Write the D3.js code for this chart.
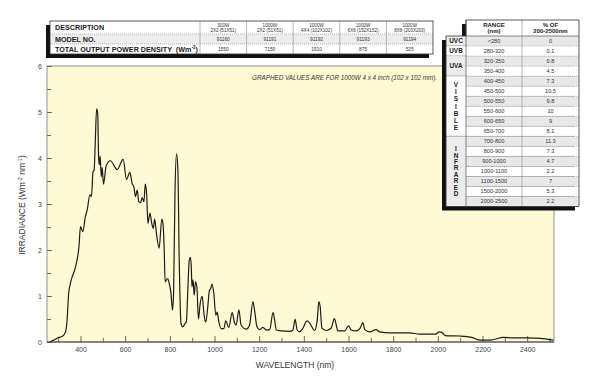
<!DOCTYPE html>
<html>
<head>
<meta charset="utf-8">
<script src="https://cdn.jsdelivr.net/npm/d3@7"></script>
<style>
  body { margin: 0; background: #fff; }
  svg { display: block; font-family: "Liberation Sans", Arial, sans-serif; }
</style>
</head>
<body>
<svg id="chart" width="600" height="383"></svg>
<script>

// spectrum (nm, W m-2 nm-1)
var wavelength = [263, 280, 303, 318, 333, 340, 347, 355, 378, 393, 400, 410, 422, 430, 442, 449, 456, 461, 466, 472,
    477, 481, 484, 488, 493, 497, 503, 515, 534, 564, 591, 606, 621, 631, 639, 646, 654, 661, 669, 676,
    684, 690, 696, 702, 711, 719, 726, 732, 740, 752, 764, 770, 775, 779, 790, 797, 805, 812, 817, 823,
    830, 836, 842, 850, 857, 868, 874, 880, 887, 892, 896, 899, 904, 909, 915, 921, 928, 936, 945, 953,
    961, 971, 977, 983, 989, 997, 1006, 1012, 1019, 1030, 1042, 1050, 1064, 1079, 1090, 1097, 1109, 1119, 1142, 1157,
    1172, 1179, 1190, 1202, 1217, 1232, 1247, 1262, 1269, 1277, 1299, 1336, 1351, 1361, 1370, 1381, 1396, 1414, 1426, 1448,
    1460, 1467, 1473, 1481, 1500, 1522, 1537, 1545, 1552, 1582, 1600, 1612, 1634, 1652, 1664, 1673, 1694, 1724, 1739, 1784,
    1874, 1918, 1990, 2005, 2018, 2033, 2100, 2152, 2190, 2234, 2294, 2339, 2399, 2458, 2518];
var irradiance = [0, 0.04, 0.10, 0.12, 0.22, 0.48, 1.06, 1.28, 1.64, 2.07, 2.51, 2.40, 2.73, 2.87, 3.20, 3.16, 3.70, 3.74, 4.32, 5.07,
    4.97, 4.03, 3.85, 4.04, 3.59, 3.79, 3.43, 3.83, 3.94, 3.75, 3.97, 3.53, 3.69, 3.45, 3.37, 3.16, 3.30, 3.05, 3.03, 3.14,
    3.05, 3.43, 3.23, 2.58, 2.80, 2.58, 2.47, 2.67, 2.36, 2.04, 2.67, 2.54, 1.96, 1.31, 1.38, 1.28, 1.06, 0.69, 1.13, 3.23,
    4.09, 3.74, 1.78, 0.40, 0.33, 0.40, 0.44, 1.06, 1.78, 1.84, 1.64, 1.20, 1.35, 1.02, 1.31, 1.20, 0.50, 0.84, 0.99, 0.60,
    0.43, 0.83, 1.12, 1.16, 1.26, 1.05, 0.58, 0.65, 0.45, 0.29, 0.29, 0.46, 0.32, 0.64, 0.41, 0.37, 0.70, 0.37, 0.28, 0.37,
    0.88, 0.70, 0.33, 0.27, 0.32, 0.26, 0.27, 0.64, 0.48, 0.26, 0.24, 0.23, 0.26, 0.49, 0.26, 0.22, 0.30, 0.46, 0.41, 0.25,
    0.48, 0.88, 0.77, 0.30, 0.25, 0.30, 0.51, 0.37, 0.24, 0.24, 0.35, 0.26, 0.24, 0.30, 0.42, 0.27, 0.22, 0.27, 0.22, 0.20,
    0.20, 0.17, 0.17, 0.22, 0.21, 0.14, 0.13, 0.10, 0.04, 0.04, 0.10, 0.09, 0.09, 0.08, 0.04];

var xMajorTicks = [400, 600, 800, 1000, 1200, 1400, 1600, 1800, 2000, 2200, 2400];
var xMinorTicks = [300, 500, 700, 900, 1100, 1300, 1500, 1700, 1900, 2100, 2300, 2500];
var yMajorTicks = [0, 1, 2, 3, 4, 5, 6];
var yMinorTicks = [0.5, 1.5, 2.5, 3.5, 4.5, 5.5];

// top table
var lampPower = ["300W", "1000W", "1000W", "1000W", "1000W"];
var lampSize = ["2X2 (51X51)", "2X2 (51X51)", "4X4 (102X102)", "6X6 (152X152)", "8X8 (203X203)"];
var modelNo = ["91160", "91191", "91192", "91193", "91194"];
var powerDensity = ["1550", "7150", "1910", "875", "525"];

// right table
var rangeNm = ["<280", "280-320", "320-350", "350-400", "400-450", "450-500", "500-550", "550-600", "600-650",
    "650-700", "700-800", "800-900", "900-1000", "1000-1100", "1100-1500", "1500-2000", "2000-2500"];
var rangePct = ["0", "0.1", "0.8", "4.5", "7.3", "10.5", "9.8", "10", "9", "8.1", "11.3", "7.3", "4.7", "2.2", "7", "5.3", "2.2"];
var bandNames = ["UVC", "UVB", "UVA", "VISIBLE", "INFRARED"];
var bandRows = [1, 1, 2, 6, 7];

var svg = d3.select("#chart");

// plot area
var plot = { left: 47, right: 554, top: 66, bottom: 342 };

var xScale = d3.scaleLinear().domain([250, 2520]).range([plot.left, plot.right]);
var yScale = d3.scaleLinear().domain([0, 6]).range([plot.bottom, plot.top]);

svg.append("rect")
    .attr("x", plot.left).attr("y", plot.top)
    .attr("width", plot.right - plot.left).attr("height", plot.bottom - plot.top)
    .attr("fill", "#fff9d4");

// axes (ticks point inward)
var xMinor = svg.append("g").attr("transform", "translate(0," + plot.bottom + ")")
    .call(d3.axisBottom(xScale).tickValues(xMinorTicks).tickSize(-4).tickFormat(""));
var xMajor = svg.append("g").attr("transform", "translate(0," + plot.bottom + ")")
    .call(d3.axisBottom(xScale).tickValues(xMajorTicks).tickSize(-6).tickPadding(5).tickFormat(d3.format("d")));
var yMinor = svg.append("g").attr("transform", "translate(" + plot.left + ",0)")
    .call(d3.axisLeft(yScale).tickValues(yMinorTicks).tickSize(-4).tickFormat(""));
var yMajor = svg.append("g").attr("transform", "translate(" + plot.left + ",0)")
    .call(d3.axisLeft(yScale).tickValues(yMajorTicks).tickSize(-5).tickPadding(5).tickFormat(d3.format("d")));

[xMinor, xMajor, yMinor, yMajor].forEach(function(g) {
    g.select(".domain").remove();
    g.selectAll(".tick line").attr("stroke", "#444").attr("stroke-width", 0.8);
    g.selectAll(".tick text").attr("fill", "#444").style("font-size", "7px")
        .style("font-family", "'Liberation Sans', Arial, sans-serif");
});

// spectrum line
var line = d3.line()
    .x(function(d, i) { return xScale(wavelength[i]); })
    .y(function(d) { return yScale(d); })
    .curve(d3.curveMonotoneX);

svg.append("path")
    .datum(irradiance)
    .attr("d", line)
    .attr("fill", "none")
    .attr("stroke", "#1c1c1c")
    .attr("stroke-width", 1.2)
    .attr("stroke-linejoin", "round");

// frame
svg.append("rect")
    .attr("x", plot.left).attr("y", plot.top)
    .attr("width", plot.right - plot.left).attr("height", plot.bottom - plot.top)
    .attr("fill", "none").attr("stroke", "#777").attr("stroke-width", 0.8);
svg.append("line")
    .attr("x1", plot.left).attr("x2", plot.right)
    .attr("y1", plot.bottom).attr("y2", plot.bottom)
    .attr("stroke", "#333").attr("stroke-width", 0.9);

// axis titles
svg.append("text")
    .attr("x", 295).attr("y", 368)
    .attr("text-anchor", "middle")
    .attr("fill", "#333")
    .style("font-size", "8.5px")
    .text("WAVELENGTH (nm)");

var yTitle = svg.append("text")
    .attr("transform", "translate(25,205) rotate(-90)")
    .attr("text-anchor", "middle")
    .attr("fill", "#333")
    .style("font-size", "8.5px");
yTitle.append("tspan").text("IRRADIANCE (Wm");
yTitle.append("tspan").attr("dy", -3).style("font-size", "5.5px").text("-2");
yTitle.append("tspan").attr("dy", 3).text(" nm");
yTitle.append("tspan").attr("dy", -3).style("font-size", "5.5px").text("-1");
yTitle.append("tspan").attr("dy", 3).text(")");

svg.append("text")
    .attr("x", 437).attr("y", 80)
    .attr("text-anchor", "end")
    .attr("fill", "#333")
    .style("font-size", "6.3px")
    .style("font-style", "italic")
    .text("GRAPHED VALUES ARE FOR 1000W 4 x 4 inch (102 x 102 mm).");

// ******* top table *******
var tbl = { left: 50, right: 433, split: 200, rows: [21, 34, 44, 54] };
var colX = d3.scaleLinear().domain([0, lampPower.length]).range([tbl.split, tbl.right]);

svg.append("rect")
    .attr("x", tbl.left - 4).attr("y", tbl.rows[0] + 4)
    .attr("width", tbl.right - tbl.left).attr("height", tbl.rows[3] - tbl.rows[0])
    .attr("fill", "#111");
svg.append("rect")
    .attr("x", tbl.left).attr("y", tbl.rows[0])
    .attr("width", tbl.right - tbl.left).attr("height", tbl.rows[3] - tbl.rows[0])
    .attr("fill", "#fff");
svg.append("rect")
    .attr("x", tbl.left).attr("y", tbl.rows[1])
    .attr("width", tbl.right - tbl.left).attr("height", tbl.rows[2] - tbl.rows[1])
    .attr("fill", "#ededed");

[tbl.rows[1], tbl.rows[2]].forEach(function(y) {
    svg.append("line").attr("x1", tbl.left).attr("x2", tbl.right).attr("y1", y).attr("y2", y)
        .attr("stroke", "#888").attr("stroke-width", 0.6).attr("stroke-dasharray", "1,1");
});
d3.range(lampPower.length).forEach(function(i) {
    svg.append("line").attr("x1", colX(i)).attr("x2", colX(i)).attr("y1", tbl.rows[0]).attr("y2", tbl.rows[3])
        .attr("stroke", "#888").attr("stroke-width", 0.6);
});
svg.append("rect")
    .attr("x", tbl.left).attr("y", tbl.rows[0])
    .attr("width", tbl.right - tbl.left).attr("height", tbl.rows[3] - tbl.rows[0])
    .attr("fill", "none").attr("stroke", "#333").attr("stroke-width", 0.8);

var rowLabels = ["DESCRIPTION", "MODEL NO.", "TOTAL OUTPUT POWER DENSITY  (Wm"];
rowLabels.forEach(function(t, i) {
    var txt = svg.append("text")
        .attr("x", tbl.left + 5)
        .attr("y", (tbl.rows[i] + tbl.rows[i + 1]) / 2 + 2.6)
        .attr("fill", "#222")
        .style("font-size", "7.2px").style("font-weight", "bold")
        .style("white-space", "pre")
        .text(t);
    if (i == 2) {
        txt.append("tspan").attr("dy", -2.5).style("font-size", "4.5px").text("-2");
        txt.append("tspan").attr("dy", 2.5).text(")");
    }
});

var cells = svg.append("g").selectAll("g").data(lampPower).enter().append("g");
cells.append("text")
    .attr("x", function(d, i) { return (colX(i) + colX(i + 1)) / 2; })
    .attr("y", 26.5)
    .attr("text-anchor", "middle").attr("fill", "#333").style("font-size", "4.6px")
    .text(function(d) { return d; });
cells.append("text")
    .attr("x", function(d, i) { return (colX(i) + colX(i + 1)) / 2; })
    .attr("y", 31.5)
    .attr("text-anchor", "middle").attr("fill", "#333").style("font-size", "4.6px")
    .text(function(d, i) { return lampSize[i]; });
cells.append("text")
    .attr("x", function(d, i) { return (colX(i) + colX(i + 1)) / 2; })
    .attr("y", 40.8)
    .attr("text-anchor", "middle").attr("fill", "#333").style("font-size", "4.8px")
    .text(function(d, i) { return modelNo[i]; });
cells.append("text")
    .attr("x", function(d, i) { return (colX(i) + colX(i + 1)) / 2; })
    .attr("y", 50.8)
    .attr("text-anchor", "middle").attr("fill", "#333").style("font-size", "4.8px")
    .text(function(d, i) { return powerDensity[i]; });

// ******* right table *******
var rt = { left: 446, c1: 466, c2: 522, right: 579, top: 20, head: 36, bottom: 206.5 };
var rowY = d3.scaleLinear().domain([0, rangeNm.length]).range([rt.head, rt.bottom]);

// shadow
svg.append("path")
    .attr("d", "M" + (rt.c1 - 4) + "," + (rt.top + 4) + "H" + (rt.right - 4) + "V" + (rt.bottom + 4) +
        "H" + (rt.left - 4) + "V" + (rt.head + 4) + "H" + (rt.c1 - 4) + "Z")
    .attr("fill", "#111");

svg.append("rect").attr("x", rt.c1).attr("y", rt.top).attr("width", rt.right - rt.c1).attr("height", rt.head - rt.top)
    .attr("fill", "#fff");

rangeNm.forEach(function(r, i) {
    svg.append("rect")
        .attr("x", rt.c1).attr("y", rowY(i))
        .attr("width", rt.right - rt.c1).attr("height", rowY(i + 1) - rowY(i))
        .attr("fill", i % 2 == 0 ? "#e8e8e8" : "#fff");
});

var startRow = 0;
bandNames.forEach(function(b, j) {
    var y0 = rowY(startRow), y1 = rowY(startRow + bandRows[j]);
    svg.append("rect")
        .attr("x", rt.left).attr("y", y0).attr("width", rt.c1 - rt.left).attr("height", y1 - y0)
        .attr("fill", j % 2 == 0 ? "#ececec" : "#fff");
    svg.append("line").attr("x1", rt.left).attr("x2", rt.c1).attr("y1", y1).attr("y2", y1)
        .attr("stroke", "#666").attr("stroke-width", 0.6);
    if (b.length <= 3) {
        svg.append("text")
            .attr("x", (rt.left + rt.c1) / 2).attr("y", (y0 + y1) / 2 + 2.3)
            .attr("text-anchor", "middle").attr("fill", "#222")
            .style("font-size", "6.4px").style("font-weight", "bold")
            .text(b);
    } else {
        var step = b.length == 7 ? 7.2 : 6.4;
        var mid = (y0 + y1) / 2;
        b.split("").forEach(function(ch, k) {
            svg.append("text")
                .attr("x", (rt.left + rt.c1) / 2)
                .attr("y", mid + (k - (b.length - 1) / 2) * step + 2.3)
                .attr("text-anchor", "middle").attr("fill", "#222")
                .style("font-size", "6.4px").style("font-weight", "bold")
                .text(ch);
        });
    }
    startRow += bandRows[j];
});

// row separators
d3.range(1, rangeNm.length).forEach(function(i) {
    svg.append("line").attr("x1", rt.c1).attr("x2", rt.right).attr("y1", rowY(i)).attr("y2", rowY(i))
        .attr("stroke", "#999").attr("stroke-width", 0.5).attr("stroke-dasharray", "1,1");
});
svg.append("line").attr("x1", rt.c1).attr("x2", rt.right).attr("y1", rt.head).attr("y2", rt.head)
    .attr("stroke", "#555").attr("stroke-width", 0.7);
svg.append("line").attr("x1", rt.c1).attr("x2", rt.c1).attr("y1", rt.top).attr("y2", rt.bottom)
    .attr("stroke", "#555").attr("stroke-width", 0.7);
svg.append("line").attr("x1", rt.c2).attr("x2", rt.c2).attr("y1", rt.top).attr("y2", rt.bottom)
    .attr("stroke", "#888").attr("stroke-width", 0.6);
svg.append("path")
    .attr("d", "M" + rt.c1 + "," + rt.top + "H" + rt.right + "V" + rt.bottom + "H" + rt.left + "V" + rt.head + "H" + rt.c1 + "Z")
    .attr("fill", "none").attr("stroke", "#333").attr("stroke-width", 0.8);

// header
[["RANGE", "(nm)"], ["% OF", "200-2500nm"]].forEach(function(h, i) {
    var cx = i == 0 ? (rt.c1 + rt.c2) / 2 : (rt.c2 + rt.right) / 2;
    h.forEach(function(t, k) {
        svg.append("text")
            .attr("x", cx).attr("y", 26.5 + k * 6.3)
            .attr("text-anchor", "middle").attr("fill", "#222")
            .style("font-size", "6px").style("font-weight", "bold")
            .text(t);
    });
});

rangeNm.forEach(function(r, i) {
    var cy = (rowY(i) + rowY(i + 1)) / 2 + 2;
    svg.append("text")
        .attr("x", (rt.c1 + rt.c2) / 2).attr("y", cy)
        .attr("text-anchor", "middle").attr("fill", "#333").style("font-size", "5.6px")
        .text(r);
    svg.append("text")
        .attr("x", (rt.c2 + rt.right) / 2).attr("y", cy)
        .attr("text-anchor", "middle").attr("fill", "#333").style("font-size", "5.6px")
        .text(rangePct[i]);
});

</script>
</body>
</html>
